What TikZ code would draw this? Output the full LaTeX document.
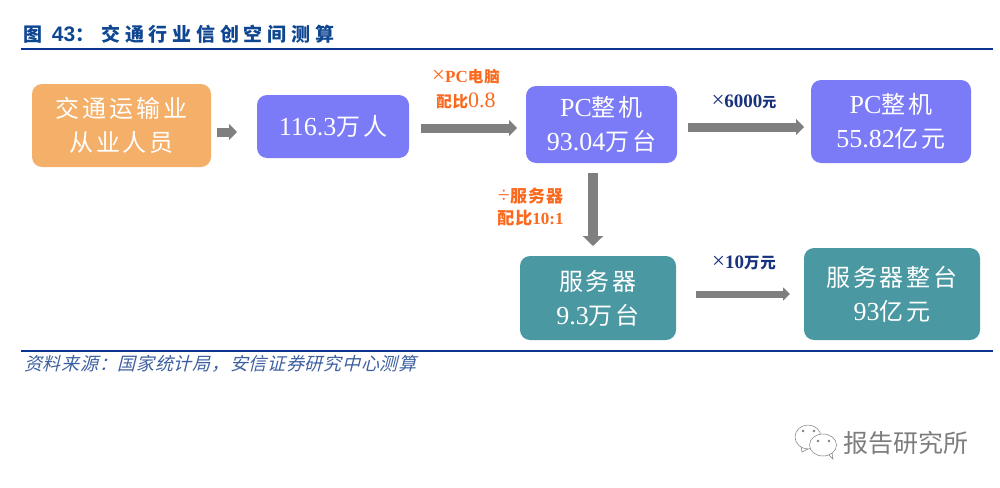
\documentclass[tikz,border=0pt]{standalone}
\usepackage{fontspec}
\setmainfont{Liberation Serif}
\newfontfamily\cjk[LetterSpace=12,Scale=0.923]{Noto Sans CJK SC}
\newfontfamily\labelcjk[LetterSpace=6]{Noto Sans CJK SC}
\newfontfamily\titlecjk[LetterSpace=25]{Noto Sans CJK SC}
\newfontfamily\notecjk[FakeSlant=0.25,LetterSpace=4]{Noto Sans CJK SC}
\newfontfamily\markcjk{Noto Sans CJK SC}
\newfontfamily\headfont{Liberation Sans}
\usetikzlibrary{arrows.meta}
\definecolor{StaffColor}{RGB}{244,175,105}
\definecolor{PCColor}{RGB}{124,123,247}
\definecolor{ServerColor}{RGB}{74,152,162}
\definecolor{ArrowColor}{RGB}{127,127,127}
\definecolor{RatioColor}{RGB}{250,105,30}
\definecolor{PriceColor}{RGB}{25,50,125}
\definecolor{RuleColor}{RGB}{10,50,145}
\definecolor{TitleColor}{RGB}{15,70,145}
\definecolor{NoteColor}{RGB}{60,95,160}
\definecolor{MarkColor}{RGB}{125,125,125}
\newcommand{\timessign}{{\fontsize{23}{22}\selectfont\mdseries ×}}

\begin{document}
\begin{tikzpicture}[x=1pt, y=-1pt,
    box/.style={rounded corners=10pt, inner sep=0pt, outer sep=0pt, text=white, align=center,
        font=\fontsize{26}{34}\selectfont},
    ratio/.style={text=RatioColor, align=center, font=\fontsize{17}{25}\selectfont\bfseries},
    price/.style={text=PriceColor, font=\fontsize{19}{20}\selectfont\bfseries},
    flow/.style={draw=ArrowColor, line width=9pt,
        -{Triangle[length=8pt, width=16pt, color=ArrowColor]}}]

    \useasboundingbox (0,0) rectangle (1000,487);

    % heading and rules
    \node[anchor=west, inner sep=0pt, text=TitleColor, font=\fontsize{19}{22}\selectfont\bfseries] (Title) at (23,34)
        {{\titlecjk 图}\hspace{5pt} {\headfont\fontsize{21}{22}\selectfont 43}{\titlecjk ：}\hspace{7pt}{\titlecjk 交通行业信创空间测算}};
    \draw[RuleColor, line width=1.8pt] (21,49) -- (993,49);
    \draw[RuleColor, line width=1.8pt] (21,351) -- (993,351);

    % boxes
    \node[box, fill=StaffColor, minimum width=179pt, minimum height=83pt] (Staff) at (121.5,125.5)
        {{\cjk 交通运输业}\\{\cjk 从业人员}};
    \node[box, fill=PCColor, minimum width=152pt, minimum height=63pt] (Workers) at (333,126.5)
        {116.3{\cjk 万人}};
    \node[box, fill=PCColor, minimum width=151pt, minimum height=77pt] (PCUnits) at (601.5,124.5)
        {PC{\cjk 整机}\\93.04{\cjk 万台}};
    \node[box, fill=PCColor, minimum width=160pt, minimum height=83pt] (PCValue) at (891,121.5)
        {PC{\cjk 整机}\\55.82{\cjk 亿元}};
    \node[box, fill=ServerColor, minimum width=156pt, minimum height=84pt] (Servers) at (598,298)
        {{\cjk 服务器}\\9.3{\cjk 万台}};
    \node[box, fill=ServerColor, minimum width=176pt, minimum height=92pt] (ServerValue) at (892,294)
        {{\cjk 服务器整台}\\93{\cjk 亿元}};

    % labels
    \node[ratio] (PCRatio) at (466,89)
        {\timessign PC{\fontsize{15.5}{25}\selectfont\labelcjk 电脑}\\{\fontsize{15.5}{25}\selectfont\labelcjk 配比}{\fontsize{22}{25}\selectfont\mdseries 0.8}};
    \node[ratio, font=\fontsize{17}{22}\selectfont\bfseries] (ServerRatio) at (530.5,207)
        {{\fontsize{22}{22}\selectfont\mdseries ÷}{\fontsize{17}{22}\selectfont\labelcjk 服务器}\\{\fontsize{17}{22}\selectfont\labelcjk 配比}10:1};
    \node[price] (PCPrice) at (744,102) {\timessign 6000{\fontsize{14}{20}\selectfont\labelcjk 元}};
    \node[price] (ServerPrice) at (744,263) {\timessign 10{\fontsize{15.5}{20}\selectfont\labelcjk 万元}};

    % arrows
    \draw[flow, shorten <=6pt, shorten >=20pt] ([yshift=-6.5pt]Staff.east) -- ([yshift=-5.5pt]Workers.west);
    \draw[flow, shorten <=12pt, shorten >=9pt] ([yshift=-1.5pt]Workers.east) -- ([yshift=-3.5pt]PCUnits.west);
    \draw[flow, shorten <=11pt, shorten >=7pt] ([yshift=-2.5pt]PCUnits.east) -- ([yshift=-5.5pt]PCValue.west);
    \draw[flow, line width=10pt, shorten <=10pt, shorten >=10pt,
        -{Triangle[length=10pt, width=20pt, color=ArrowColor]}] ([xshift=-8.5pt]PCUnits.south) -- ([xshift=-5pt]Servers.north);
    \draw[flow, line width=7pt, shorten <=20pt, shorten >=14pt,
        -{Triangle[length=7pt, width=13pt, color=ArrowColor]}] ([yshift=4pt]Servers.east) -- (ServerValue.west);

    % source line
    \node[anchor=west, inner sep=0pt, text=NoteColor, font=\fontsize{18}{22}\selectfont] (Source) at (24,364)
        {\notecjk 资料来源：国家统计局，安信证券研究中心测算};

    % watermark
    \draw[MarkColor, line width=0.5pt, fill=white] (808,437) ellipse (13 and 12);
    \draw[MarkColor, line width=0.5pt] (801,447) -- (802,452) -- (808,449);
    \draw[MarkColor, line width=0.5pt, fill=white] (823,445) ellipse (13.5 and 11);
    \draw[MarkColor, line width=0.5pt] (829,455) -- (833,459) -- (832,453);
    \foreach \dotx/\doty in {803/431, 814/431, 818/441, 829/441}
        \fill[MarkColor] (\dotx,\doty) circle (1.3);
    \node[anchor=west, inner sep=0pt, text=MarkColor, font=\fontsize{25}{28}\selectfont] (Mark) at (843,443)
        {\markcjk 报告研究所};
\end{tikzpicture}
\end{document}
